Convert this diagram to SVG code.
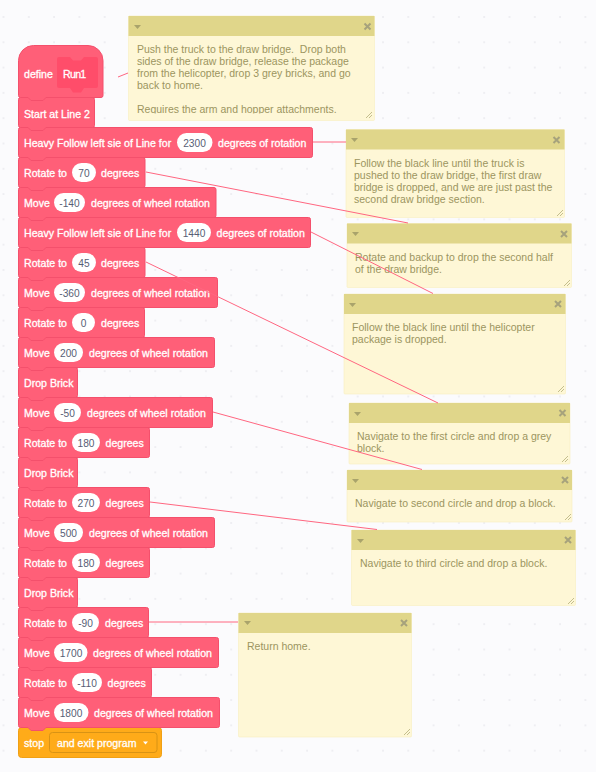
<svg xmlns="http://www.w3.org/2000/svg" width="596" height="772" viewBox="0 0 596 772">
<defs>
<pattern id="dots" width="25.3" height="25.3" patternUnits="userSpaceOnUse" x="2.500" y="16">
<circle cx="1" cy="1" r="0.9" fill="#e9e9ee"/>
</pattern>
<clipPath id="clip-1"><rect x="128" y="36" width="247" height="77.500"/></clipPath>
</defs>
<style>
text{font-family:"Liberation Sans",Arial,sans-serif}
.b{fill:#ff5f78;stroke:#f4506c;stroke-width:1}
.t{fill:#fff;stroke:#fff;stroke-width:.3;font-size:10.6px}
.v{fill:#575e75;font-size:10.2px;text-anchor:middle}
.o{fill:#fff}
.h{fill:#e0d68a}
.n{fill:#fef7d6;stroke:#f8efc0;stroke-width:.6}
.c{fill:#9c9560;font-size:10.5px}
.i{stroke:#a6a27c;stroke-width:2;fill:none}
.a{fill:#a9a36b}
.g{stroke:#b5ae78;stroke-width:.8;fill:none}
.l{stroke:#ff6680;stroke-width:1;fill:none}
</style>
<rect width="596" height="772" fill="#fbfbfd"/>
<rect width="596" height="772" fill="url(#dots)"/>

<g id="block-stop"><rect x="18.500" y="727.500" width="143" height="30" rx="3" fill="#ffab19" stroke="#f0a015"/><rect x="49.500" y="732.500" width="107.500" height="20" rx="3" fill="#ffab19" stroke="#d89315"/><text class="t" x="24" y="747">stop</text><text class="t" x="57" y="747">and exit program</text><path d="M143 741.500h5l-2.500 3z" fill="#fff"/></g>
<g id="block-23"><path class="b" d="M20.500 697.500H217.500a2 2 0 0 1 2 2v26a2 2 0 0 1-2 2H46l-3 3h-12l-3-3h-7.500a2 2 0 0 1-2-2v-26a2 2 0 0 1 2-2z"/><text class="t" x="24" y="717">Move</text><rect class="o" x="54" y="703" width="34.500" height="19" rx="9.500"/><text class="v" x="71" y="717">1800</text><text class="t" x="94" y="717">degrees of wheel rotation</text></g>
<g id="block-22"><path class="b" d="M20.500 667.500H149.500a2 2 0 0 1 2 2v26a2 2 0 0 1-2 2H46l-3 3h-12l-3-3h-7.500a2 2 0 0 1-2-2v-26a2 2 0 0 1 2-2z"/><text class="t" x="24" y="687">Rotate to</text><rect class="o" x="72" y="673" width="30" height="19" rx="9.500"/><text class="v" x="87" y="687">-110</text><text class="t" x="107.500" y="687">degrees</text></g>
<g id="block-21"><path class="b" d="M20.500 637.500H216.500a2 2 0 0 1 2 2v26a2 2 0 0 1-2 2H46l-3 3h-12l-3-3h-7.500a2 2 0 0 1-2-2v-26a2 2 0 0 1 2-2z"/><text class="t" x="24" y="657">Move</text><rect class="o" x="54" y="643" width="33.500" height="19" rx="9.500"/><text class="v" x="71" y="657">1700</text><text class="t" x="93" y="657">degrees of wheel rotation</text></g>
<g id="block-20"><path class="b" d="M20.500 607.500H146.500a2 2 0 0 1 2 2v26a2 2 0 0 1-2 2H46l-3 3h-12l-3-3h-7.500a2 2 0 0 1-2-2v-26a2 2 0 0 1 2-2z"/><text class="t" x="24" y="627">Rotate to</text><rect class="o" x="72" y="613" width="27" height="19" rx="9.500"/><text class="v" x="85.500" y="627">-90</text><text class="t" x="105" y="627">degrees</text></g>
<g id="block-19"><path class="b" d="M20.500 577.500H75.500a2 2 0 0 1 2 2v26a2 2 0 0 1-2 2H46l-3 3h-12l-3-3h-7.500a2 2 0 0 1-2-2v-26a2 2 0 0 1 2-2z"/><text class="t" x="24" y="597">Drop Brick</text></g>
<g id="block-18"><path class="b" d="M20.500 547.500H147.500a2 2 0 0 1 2 2v26a2 2 0 0 1-2 2H46l-3 3h-12l-3-3h-7.500a2 2 0 0 1-2-2v-26a2 2 0 0 1 2-2z"/><text class="t" x="24" y="567">Rotate to</text><rect class="o" x="72" y="553" width="28" height="19" rx="9.500"/><text class="v" x="86" y="567">180</text><text class="t" x="105.500" y="567">degrees</text></g>
<g id="block-17"><path class="b" d="M20.500 517.500H212.500a2 2 0 0 1 2 2v26a2 2 0 0 1-2 2H46l-3 3h-12l-3-3h-7.500a2 2 0 0 1-2-2v-26a2 2 0 0 1 2-2z"/><text class="t" x="24" y="537">Move</text><rect class="o" x="54" y="523" width="29" height="19" rx="9.500"/><text class="v" x="68.500" y="537">500</text><text class="t" x="89" y="537">degrees of wheel rotation</text></g>
<g id="block-16"><path class="b" d="M20.500 487.500H147.500a2 2 0 0 1 2 2v26a2 2 0 0 1-2 2H46l-3 3h-12l-3-3h-7.500a2 2 0 0 1-2-2v-26a2 2 0 0 1 2-2z"/><text class="t" x="24" y="507">Rotate to</text><rect class="o" x="72" y="493" width="28" height="19" rx="9.500"/><text class="v" x="86" y="507">270</text><text class="t" x="105.500" y="507">degrees</text></g>
<g id="block-15"><path class="b" d="M20.500 457.500H75.500a2 2 0 0 1 2 2v26a2 2 0 0 1-2 2H46l-3 3h-12l-3-3h-7.500a2 2 0 0 1-2-2v-26a2 2 0 0 1 2-2z"/><text class="t" x="24" y="477">Drop Brick</text></g>
<g id="block-14"><path class="b" d="M20.500 427.500H147.500a2 2 0 0 1 2 2v26a2 2 0 0 1-2 2H46l-3 3h-12l-3-3h-7.500a2 2 0 0 1-2-2v-26a2 2 0 0 1 2-2z"/><text class="t" x="24" y="447">Rotate to</text><rect class="o" x="72" y="433" width="28" height="19" rx="9.500"/><text class="v" x="86" y="447">180</text><text class="t" x="105.500" y="447">degrees</text></g>
<g id="block-13"><path class="b" d="M20.500 397.500H210.500a2 2 0 0 1 2 2v26a2 2 0 0 1-2 2H46l-3 3h-12l-3-3h-7.500a2 2 0 0 1-2-2v-26a2 2 0 0 1 2-2z"/><text class="t" x="24" y="417">Move</text><rect class="o" x="54" y="403" width="27" height="19" rx="9.500"/><text class="v" x="67.500" y="417">-50</text><text class="t" x="87" y="417">degrees of wheel rotation</text></g>
<g id="block-12"><path class="b" d="M20.500 367.500H75.500a2 2 0 0 1 2 2v26a2 2 0 0 1-2 2H46l-3 3h-12l-3-3h-7.500a2 2 0 0 1-2-2v-26a2 2 0 0 1 2-2z"/><text class="t" x="24" y="387">Drop Brick</text></g>
<g id="block-11"><path class="b" d="M20.500 337.500H212.500a2 2 0 0 1 2 2v26a2 2 0 0 1-2 2H46l-3 3h-12l-3-3h-7.500a2 2 0 0 1-2-2v-26a2 2 0 0 1 2-2z"/><text class="t" x="24" y="357">Move</text><rect class="o" x="54" y="343" width="29" height="19" rx="9.500"/><text class="v" x="68.500" y="357">200</text><text class="t" x="89" y="357">degrees of wheel rotation</text></g>
<g id="block-10"><path class="b" d="M20.500 307.500H142.500a2 2 0 0 1 2 2v26a2 2 0 0 1-2 2H46l-3 3h-12l-3-3h-7.500a2 2 0 0 1-2-2v-26a2 2 0 0 1 2-2z"/><text class="t" x="24" y="327">Rotate to</text><rect class="o" x="72" y="313" width="23" height="19" rx="9.500"/><text class="v" x="83.500" y="327">0</text><text class="t" x="101" y="327">degrees</text></g>
<g id="block-9"><path class="b" d="M20.500 277.500H215.500a2 2 0 0 1 2 2v26a2 2 0 0 1-2 2H46l-3 3h-12l-3-3h-7.500a2 2 0 0 1-2-2v-26a2 2 0 0 1 2-2z"/><text class="t" x="24" y="297">Move</text><rect class="o" x="54" y="283" width="31" height="19" rx="9.500"/><text class="v" x="69.500" y="297">-360</text><text class="t" x="91" y="297">degrees of wheel rotation</text></g>
<g id="block-8"><path class="b" d="M20.500 247.500H143a2 2 0 0 1 2 2v26a2 2 0 0 1-2 2H46l-3 3h-12l-3-3h-7.500a2 2 0 0 1-2-2v-26a2 2 0 0 1 2-2z"/><text class="t" x="24" y="267">Rotate to</text><rect class="o" x="72" y="253" width="24" height="19" rx="9.500"/><text class="v" x="84" y="267">45</text><text class="t" x="101" y="267">degrees</text></g>
<g id="block-7"><path class="b" d="M20.500 217.500H308.500a2 2 0 0 1 2 2v26a2 2 0 0 1-2 2H46l-3 3h-12l-3-3h-7.500a2 2 0 0 1-2-2v-26a2 2 0 0 1 2-2z"/><text class="t" x="24" y="237">Heavy Follow left sie of Line for</text><rect class="o" x="177" y="223" width="34" height="19" rx="9.500"/><text class="v" x="194" y="237">1440</text><text class="t" x="216.500" y="237">degrees of rotation</text></g>
<g id="block-6"><path class="b" d="M20.500 187.500H214a2 2 0 0 1 2 2v26a2 2 0 0 1-2 2H46l-3 3h-12l-3-3h-7.500a2 2 0 0 1-2-2v-26a2 2 0 0 1 2-2z"/><text class="t" x="24" y="207">Move</text><rect class="o" x="54" y="193" width="31" height="19" rx="9.500"/><text class="v" x="69.500" y="207">-140</text><text class="t" x="91" y="207">degrees of wheel rotation</text></g>
<g id="block-5"><path class="b" d="M20.500 157.500H143a2 2 0 0 1 2 2v26a2 2 0 0 1-2 2H46l-3 3h-12l-3-3h-7.500a2 2 0 0 1-2-2v-26a2 2 0 0 1 2-2z"/><text class="t" x="24" y="177">Rotate to</text><rect class="o" x="72" y="163" width="24" height="19" rx="9.500"/><text class="v" x="84" y="177">70</text><text class="t" x="101" y="177">degrees</text></g>
<g id="block-4"><path class="b" d="M20.500 127.500H310.500a2 2 0 0 1 2 2v26a2 2 0 0 1-2 2H46l-3 3h-12l-3-3h-7.500a2 2 0 0 1-2-2v-26a2 2 0 0 1 2-2z"/><text class="t" x="24" y="147">Heavy Follow left sie of Line for</text><rect class="o" x="177" y="133" width="35.500" height="19" rx="9.500"/><text class="v" x="194.500" y="147">2300</text><text class="t" x="218" y="147">degrees of rotation</text></g>
<g id="block-3"><path class="b" d="M20.500 97.500H92.500a2 2 0 0 1 2 2v26a2 2 0 0 1-2 2H46l-3 3h-12l-3-3h-7.500a2 2 0 0 1-2-2v-26a2 2 0 0 1 2-2z"/><text class="t" x="24" y="117.500">Start at Line 2</text></g>
<g id="block-define"><path class="b" d="M18.500 60.500a15 15 0 0 1 15-15H88a15 15 0 0 1 15 15V95.500a2 2 0 0 1-2 2H46l-3 3h-12l-3-3h-7.500a2 2 0 0 1-2-2z"/><text class="t" x="24" y="78">define</text><path d="M59 57h11l3 3.500h8l3-3.500h12a2 2 0 0 1 2 2V86a2 2 0 0 1-2 2H84l-3 4.500h-8l-3-4.500H59a2 2 0 0 1-2-2V59a2 2 0 0 1 2-2z" fill="#ff4d6a"/><text class="t" x="63" y="78" letter-spacing="-.7">Run1</text></g>

<g id="note-1"><rect class="n" x="128.500" y="16" width="246" height="104.500" rx="1"/><rect class="h" x="128.500" y="16" width="246" height="20"/><path class="a" d="M134 25h7l-3.500 4z"/><path class="i" d="M364.500 23.500l6 6M370.500 23.500l-6 6"/><g clip-path="url(#clip-1)"><text class="c" x="137" y="53" xml:space="preserve">Push the truck to the draw bridge.  Drop both</text><text class="c" x="137" y="65">sides of the draw bridge, release the package</text><text class="c" x="137" y="77">from the helicopter, drop 3 grey bricks, and go</text><text class="c" x="137" y="89">back to home.</text><text class="c" x="137" y="113">Requires the arm and hopper attachments.</text></g><path class="g" d="M366 118l6-6M369 118l3-3"/></g>
<g id="note-2"><rect class="n" x="346" y="129.500" width="218.500" height="88" rx="1"/><rect class="h" x="346" y="129.500" width="218.500" height="20"/><path class="a" d="M351 138h7l-3.500 4z"/><path class="i" d="M553.500 137l6 6M559.500 137l-6 6"/><text class="c" x="354" y="167">Follow the black line until the truck is</text><text class="c" x="354" y="179">pushed to the draw bridge, the first draw</text><text class="c" x="354" y="191">bridge is dropped, and we are just past the</text><text class="c" x="354" y="203">second draw bridge section.</text><path class="g" d="M557 216l6-6M560 216l3-3"/></g>
<g id="note-3"><rect class="n" x="347" y="223.500" width="224.500" height="64" rx="1"/><rect class="h" x="347" y="223.500" width="224.500" height="20"/><path class="a" d="M352 232h7l-3.500 4z"/><path class="i" d="M561 231l6 6M567 231l-6 6"/><text class="c" x="355" y="261">Rotate and backup to drop the second half</text><text class="c" x="355" y="273">of the draw bridge.</text><path class="g" d="M564 286l6-6M567 286l3-3"/></g>
<g id="note-4"><rect class="n" x="344" y="294" width="221.500" height="100" rx="1"/><rect class="h" x="344" y="294" width="221.500" height="20"/><path class="a" d="M349 303h7l-3.500 4z"/><path class="i" d="M555 301l6 6M561 301l-6 6"/><text class="c" x="352" y="331">Follow the black line until the helicopter</text><text class="c" x="352" y="343">package is dropped.</text><path class="g" d="M558 392l6-6M561 392l3-3"/></g>
<g id="note-5"><rect class="n" x="349" y="403" width="221" height="61" rx="1"/><rect class="h" x="349" y="403" width="221" height="20"/><path class="a" d="M354 412h7l-3.500 4z"/><path class="i" d="M559.500 410l6 6M565.500 410l-6 6"/><text class="c" x="357" y="440">Navigate to the first circle and drop a grey</text><text class="c" x="357" y="452">block.</text><path class="g" d="M562 462l6-6M565 462l3-3"/></g>
<g id="note-6"><rect class="n" x="347" y="470" width="225" height="52" rx="1"/><rect class="h" x="347" y="470" width="225" height="20"/><path class="a" d="M352 479h7l-3.500 4z"/><path class="i" d="M562 477l6 6M568 477l-6 6"/><text class="c" x="355" y="507">Navigate to second circle and drop a block.</text><path class="g" d="M565 520l6-6M568 520l3-3"/></g>
<g id="note-7"><rect class="n" x="351.500" y="530" width="224" height="75.500" rx="1"/><rect class="h" x="351.500" y="530" width="224" height="20"/><path class="a" d="M357 539h7l-3.500 4z"/><path class="i" d="M565 537l6 6M571 537l-6 6"/><text class="c" x="360" y="567">Navigate to third circle and drop a block.</text><path class="g" d="M568 604l6-6M571 604l3-3"/></g>
<g id="note-8"><rect class="n" x="238.500" y="613" width="173" height="124" rx="1"/><rect class="h" x="238.500" y="613" width="173" height="20"/><path class="a" d="M244 621h7l-3.500 4z"/><path class="i" d="M401 620l6 6M407 620l-6 6"/><text class="c" x="247" y="650">Return home.</text><path class="g" d="M404 735l6-6M407 735l3-3"/></g>

<g id="connectors">
<line class="l" x1="118" y1="77" x2="128" y2="73"/>
<line class="l" x1="313" y1="142" x2="346" y2="142"/>
<line class="l" x1="146" y1="172" x2="408" y2="223"/>
<line class="l" x1="311" y1="232" x2="433" y2="293.500"/>
<line class="l" x1="146" y1="262" x2="438" y2="403"/>
<line class="l" x1="213" y1="412" x2="422" y2="469.500"/>
<line class="l" x1="150" y1="502" x2="377" y2="529.500"/>
<line class="l" x1="149" y1="622" x2="238" y2="622"/>
</g>
</svg>
